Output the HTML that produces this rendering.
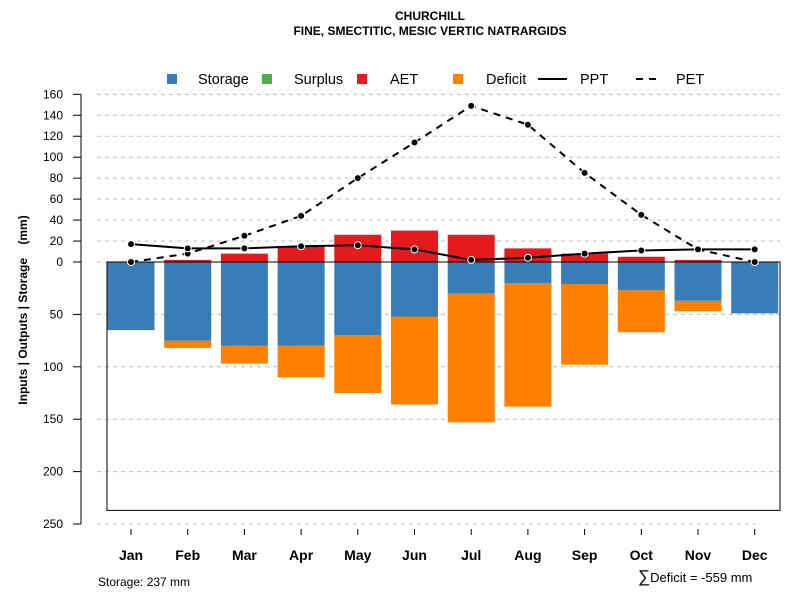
<!DOCTYPE html>
<html><head><meta charset="utf-8"><style>
body{margin:0;background:#fff}
svg{display:block;font-family:"Liberation Sans",Arial,sans-serif}
</style></head><body>
<svg id="c" width="800" height="600" xmlns="http://www.w3.org/2000/svg">
<text x="430" y="20" text-anchor="middle" font-size="12" font-weight="bold">CHURCHILL</text>
<text x="430" y="35" text-anchor="middle" font-size="12" font-weight="bold">FINE, SMECTITIC, MESIC VERTIC NATRARGIDS</text>
<g font-size="14.5">
<rect x="167" y="74" width="10" height="10" fill="#377eb8"/>
<text x="198" y="84">Storage</text>
<rect x="262" y="74" width="10" height="10" fill="#4daf4a"/>
<text x="294" y="84">Surplus</text>
<rect x="357" y="74" width="10" height="10" fill="#e41a1c"/>
<text x="390" y="84">AET</text>
<rect x="453" y="74" width="10" height="10" fill="#ff7f00"/>
<text x="486" y="84">Deficit</text>
<line x1="538" y1="79" x2="567" y2="79" stroke="#000" stroke-width="2"/>
<text x="580" y="84">PPT</text>
<line x1="636" y1="79" x2="662" y2="79" stroke="#000" stroke-width="2" stroke-dasharray="7,6"/>
<text x="676" y="84">PET</text>
</g>
<text transform="translate(27,310) rotate(-90)" text-anchor="middle" font-size="12" font-weight="bold">Inputs | Outputs | Storage&#160;&#160;&#160;&#160;(mm)</text>
<text x="98" y="586" font-size="12">Storage: 237 mm</text>
<text x="638" y="582" font-size="13"><tspan font-size="17">∑</tspan>Deficit = -559 mm</text>
<g id="g"></g>
</svg>
<script>
const months=["Jan","Feb","Mar","Apr","May","Jun","Jul","Aug","Sep","Oct","Nov","Dec"];
const storage=[65,75,80,80,70,52,30,20,21,27,37,49];
const deficit=[0,7,17,30,55,84,123,118,77,40,10,0];
const aet=[0,2,8,15,26,30,26,13,8,5,2,0];
const ppt=[17,13,13,15,16,12,2,4,8,11,12,12];
const pet=[0,8,25,44,80,114,149,131,85,45,12,0];
const upTicks=[0,20,40,60,80,100,120,140,160];
const downTicks=[50,100,150,200,250];
const storageCap=237;
const NS="http://www.w3.org/2000/svg";
const g=document.getElementById('g');
const y0=262,k=1.048;
const y=v=>y0-v*k;
const x=i=>131+i*56.7;
const bw=47;
function mk(t,a){const e=document.createElementNS(NS,t);for(const n in a)e.setAttribute(n,a[n]);g.appendChild(e);return e;}
const allTicks=upTicks.map(v=>[v,v]).concat(downTicks.map(v=>[-v,v]));
allTicks.forEach(([v,l])=>{
 const yy=y(v);
 const gl=mk('line',{x1:97,x2:(v<-240?755:780),y1:yy,y2:yy,stroke:'#bbb','stroke-dasharray':'4,4'});
 
 
 const tk=mk('line',{x1:73,x2:81,y1:yy,y2:yy,stroke:'#000'});
 
 
 const t=mk('text',{x:63,y:yy+4,'text-anchor':'end','font-size':12});
 t.textContent=l;
 
 
});
const ax=mk('line',{x1:81,x2:81,y1:y(160),y2:y(-250),stroke:'#000'});


const box=mk('rect',{x:107,y:y0,width:673,height:storageCap*k,fill:'none',stroke:'#000'});


months.forEach((m,i)=>{
 const bx=x(i)-bw/2;
 const s=mk('rect',{x:bx,y:y0,width:bw,height:storage[i]*k,fill:'#377eb8'});
 
 
 if(deficit[i]>0){const d=mk('rect',{x:bx,y:y(-storage[i]),width:bw,height:deficit[i]*k,fill:'#ff7f00'});
 
 }
 if(aet[i]>0){const a=mk('rect',{x:bx,y:y(aet[i]),width:bw,height:aet[i]*k,fill:'#e41a1c'});
 
 }
 const tk=mk('line',{x1:x(i),x2:x(i),y1:529,y2:535,stroke:'#000'});
 
 
 const t=mk('text',{x:x(i),y:560,'text-anchor':'middle','font-size':14,'font-weight':'bold'});
 t.textContent=m;
 
 
});
const zl=mk('line',{x1:107,x2:780,y1:y0,y2:y0,stroke:'#000'});


function series(arr,name,dash){
 const p=mk('polyline',{points:arr.map((v,i)=>x(i)+','+y(v)).join(' '),fill:'none',stroke:'#000','stroke-width':2,'stroke-dasharray':dash});
 
 
 arr.forEach((v,i)=>{const c=mk('circle',{cx:x(i),cy:y(v),r:3.5,fill:'#000',stroke:'#fff','stroke-width':1});
 
 });
}
series(pet,'pet','7,6');
series(ppt,'ppt','none');
</script>
</body></html>
